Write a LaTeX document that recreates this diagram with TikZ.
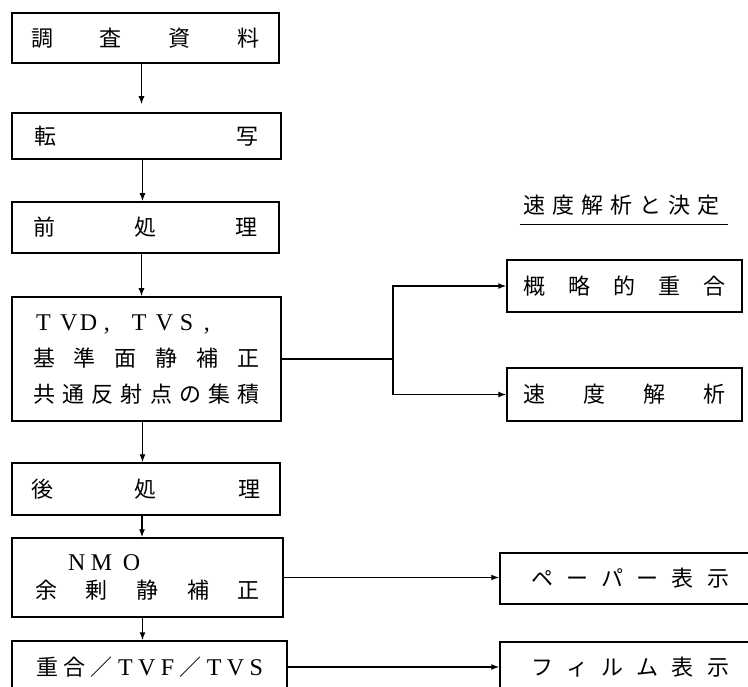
\documentclass[tikz,border=0pt]{standalone}
\usepackage{fontspec}
\setmainfont{Liberation Serif}
\newfontfamily\jp{Noto Sans CJK JP}
\usetikzlibrary{arrows.meta}
\tikzset{
  box/.style={draw, line width=1.5pt, inner sep=0pt, font=\jp\fontsize{22}{26}\selectfont},
  lbl/.style={inner sep=0pt, font=\jp\fontsize{22}{26}\selectfont},
  arr/.style={line width=1.4pt, -{Latex[length=8pt,width=6pt]}},
  conn/.style={line width=1.4pt},
}
\newcommand\spr[2]{\makebox[#1]{#2}}
\newcommand\cellw[2]{\makebox[#1][l]{#2}}
\newcommand\lat[1]{{\rmfamily\fontsize{24}{26}\selectfont #1}}
\begin{document}
\begin{tikzpicture}[x=1pt,y=-1pt]
\useasboundingbox (0,0) rectangle (748,687);
\clip (0,0) rectangle (748,687);
\fill[white] (0,0) rectangle (748,687);

% left column
\node[box, minimum width=267pt, minimum height=50pt] (b1) at (145.5,38) {\spr{229pt}{調\hfill 査\hfill 資\hfill 料}};
\node[box, minimum width=269pt, minimum height=46pt] (b2) at (146.5,136) {\spr{224pt}{転\hfill 写}};
\node[box, minimum width=267pt, minimum height=51pt] (b3) at (145.5,227.5) {\spr{225pt}{前\hfill 処\hfill 理}};
\node[box, minimum width=269pt, minimum height=124pt, align=left, font=\jp\fontsize{22}{36}\selectfont] (b4) at (146.5,359)
  {\hspace*{3pt}\lat{\cellw{24pt}{T}\cellw{20pt}{V}\cellw{24pt}{D}\cellw{28pt}{,}\cellw{24pt}{T}\cellw{24pt}{V}\cellw{24pt}{S}\cellw{10pt}{,}}\\
   \spr{227pt}{基\hfill 準\hfill 面\hfill 静\hfill 補\hfill 正}\\
   \spr{227pt}{共\hfill 通\hfill 反\hfill 射\hfill 点\hfill の\hfill 集\hfill 積}};
\node[box, minimum width=268pt, minimum height=52pt] (b5) at (146,489) {\spr{230pt}{後\hfill 処\hfill 理}};
\node[box, minimum width=271pt, minimum height=79pt, align=left, font=\jp\fontsize{22}{28}\selectfont] (b6) at (147.5,577.5)
  {\hspace*{33pt}\lat{\cellw{23pt}{N}\cellw{32pt}{M}\cellw{20pt}{O}}\\
   \spr{225pt}{余\hfill 剰\hfill 静\hfill 補\hfill 正}};
\node[box, minimum width=275pt, minimum height=52pt] (b7) at (149.5,667)
  {\spr{227pt}{重\hfill 合\hfill ／\hfill \lat{T}\hfill \lat{V}\hfill \lat{F}\hfill ／\hfill \lat{T}\hfill \lat{V}\hfill \lat{S}}};

% right column
\node[lbl] (t) at (621.5,205) {\spr{197pt}{速\hfill 度\hfill 解\hfill 析\hfill と\hfill 決\hfill 定}};
\node[box, minimum width=235pt, minimum height=52pt] (r1) at (624.5,286) {\spr{203pt}{概\hfill 略\hfill 的\hfill 重\hfill 合}};
\node[box, minimum width=235pt, minimum height=53pt] (r2) at (624.5,394.5) {\spr{203pt}{速\hfill 度\hfill 解\hfill 析}};
\node[box, minimum width=260pt, minimum height=51pt] (p) at (630,578.5) {\spr{198pt}{ペ\hfill ー\hfill パ\hfill ー\hfill 表\hfill 示}};
\node[box, minimum width=260pt, minimum height=50pt] (f) at (630,667) {\spr{198pt}{フ\hfill ィ\hfill ル\hfill ム\hfill 表\hfill 示}};

% title underline
\draw[conn] ([shift={(-3,9)}]t.south west) -- ([shift={(8,9)}]t.south east);

% vertical flow
\draw[arr, shorten >=8pt] ([xshift=-4pt]b1.south) -- ([xshift=-4pt]b1.south |- b2.north);
\draw[arr] ([xshift=-4pt]b2.south) -- ([xshift=-4pt]b2.south |- b3.north);
\draw[arr] ([xshift=-4pt]b3.south) -- ([xshift=-4pt]b3.south |- b4.north);
\draw[arr] ([xshift=-4pt]b4.south) -- ([xshift=-4pt]b4.south |- b5.north);
\draw[arr] ([xshift=-4pt]b5.south) -- ([xshift=-4pt]b5.south |- b6.north);
\draw[arr] ([xshift=-5pt]b6.south) -- ([xshift=-5pt]b6.south |- b7.north);

% branches
\coordinate (j) at (393,359);
\draw[conn] (b4.east) -- (j);
\draw[arr] (j) |- (r1.west);
\draw[arr] (j) |- (r2.west);
\draw[arr] (b6.east) -- (b6.east -| p.west);
\draw[arr] (b7.east) -- (b7.east -| f.west);
\end{tikzpicture}
\end{document}
